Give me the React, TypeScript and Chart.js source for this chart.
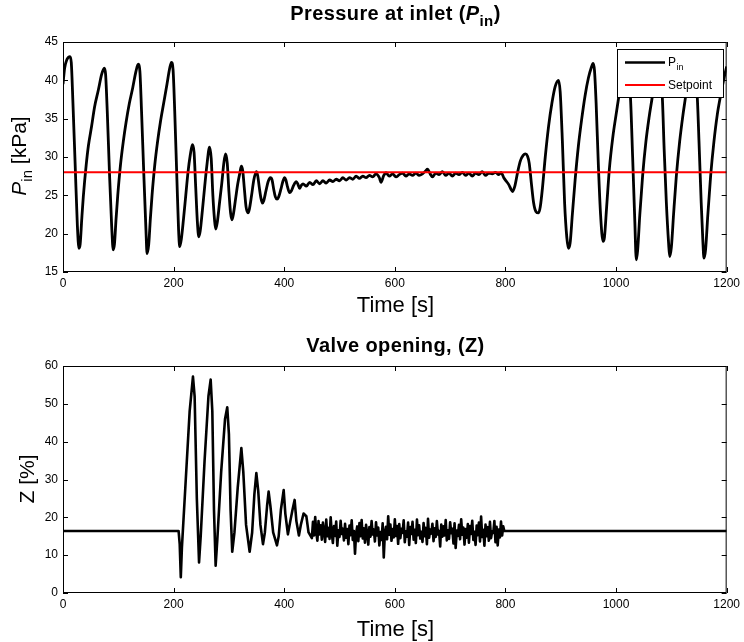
import React, { useEffect, useRef } from "react";
import { Chart, registerables } from "chart.js";

Chart.register(...registerables);

// ---------- DATA ----------
const xTicks = [0, 200, 400, 600, 800, 1000, 1200];
const pTicks = [15, 20, 25, 30, 35, 40, 45];
const zTicks = [0, 10, 20, 30, 40, 50, 60];
const setpoint = 28;

const pinTime = [
  0, 3, 7, 12.6, 15, 18, 22, 26, 28.9, 31, 34, 36.7, 42, 46, 51.7, 57, 63.8, 70, 74.6,
  77, 80, 84, 88, 90.8, 93, 96, 99, 104, 109, 114, 120, 126, 132, 136,
  139, 142, 146, 150, 152, 155, 158, 161, 166, 171, 176, 182, 188, 193, 196,
  199, 202, 206, 209, 211, 214, 218, 222, 226, 230, 234,
  237, 240, 243, 245.5, 248, 252, 256, 260, 265,
  268, 271, 274, 276, 279, 283, 287, 291, 294,
  297, 300, 303, 305.6, 308, 312, 316, 320, 322.5,
  325, 328, 331, 334.5, 337, 341, 345, 349.6,
  352, 355, 358, 360.5, 363, 367, 371, 375,
  378, 381, 384, 387, 390, 394, 397.5, 400.7,
  403, 406, 409.7, 413, 417, 421.8, 424.5, 427.8, 431,
  434, 440, 446, 452, 458, 464, 470, 476, 482, 488, 494, 500, 506, 512, 518, 524, 530,
  536, 542, 548, 554, 560, 566, 572, 575, 580, 584, 590, 596, 602, 608, 614, 620, 626,
  632, 638, 644, 650, 656, 659, 664, 668, 674, 680, 686, 692, 698, 704, 710, 716, 722,
  728, 734, 740, 746, 752, 758, 764, 770, 776, 782, 788, 792,
  797, 802, 806, 810, 813, 817, 822, 827, 832, 836, 840, 843, 847, 851, 855, 860,
  863, 867, 872, 878, 884, 890, 896, 899, 903, 907, 911, 914,
  917, 921, 926, 932, 938, 944, 950, 955, 958.5, 961, 964, 968, 972, 976.5,
  979, 983, 988, 994, 1000, 1005, 1010, 1016, 1020, 1023, 1026, 1030, 1034, 1036.6,
  1039, 1043, 1048, 1054, 1060, 1065.6, 1070, 1075, 1079, 1083.6, 1087, 1091, 1095, 1097,
  1100, 1104, 1109, 1115, 1121, 1125.8, 1130, 1135, 1140, 1144, 1146.8, 1150, 1154, 1157, 1159,
  1162, 1166, 1171, 1177, 1183, 1189, 1195, 1200,
];
const pinValue = [
  39.5, 41.6, 42.7, 43.1, 42.3, 37, 29, 21, 18.1, 18.6, 22, 24.8, 29, 31.5, 34, 36.5, 38.7, 40.8, 41.6,
  40.8, 36, 28, 21, 17.9, 18.6, 22, 25, 29, 32, 34.5, 37, 39, 41.2, 42.1,
  41.2, 36, 28, 20.5, 17.4, 18.6, 22, 25, 29, 32, 34.5, 37, 39.5, 41.6, 42.35,
  41.4, 36, 27, 20.5, 18.3, 19.3, 22, 25, 28, 30.2, 31.6,
  30.6, 26, 21.5, 19.6, 20.3, 23, 26, 28.8, 31.3,
  29.8, 25, 21.8, 20.6, 21.5, 24, 26.5, 29.3, 30.4,
  29.2, 25.5, 22.7, 21.8, 22.5, 24.5, 26.5, 28, 28.8,
  28.2, 25.8, 23.5, 22.7, 23.2, 25, 27, 28.1,
  27.6, 26, 24.6, 24.0, 24.3, 25.6, 26.8, 27.3,
  27, 25.8, 24.8, 24.5, 24.8, 25.8, 26.8, 27.3,
  27, 26.1, 25.35, 25.6, 26.3, 26.8, 26.5, 25.9, 26.3,
  26.5, 26.2, 26.7, 26.4, 26.9, 26.5, 26.9, 26.6, 27.0, 26.8, 27.1, 26.9, 27.3, 27.0, 27.3, 27.1, 27.5,
  27.2, 27.5, 27.3, 27.6, 27.4, 27.8, 27.3, 26.7, 27.6, 27.95, 27.5, 27.8, 27.4, 27.7, 27.9, 27.5, 27.8,
  27.6, 27.9, 27.6, 27.8, 28.2, 28.4, 27.8, 27.4, 27.9, 27.7, 28.1, 27.6, 27.9, 27.5, 27.9, 27.7, 28.0,
  27.6, 27.9, 27.5, 27.9, 27.7, 28.1, 27.6, 27.9, 27.8, 28.0, 27.7, 28.0,
  27.3, 26.8, 26.4, 25.8, 25.5, 26.2, 28, 29.5, 30.2, 30.4, 30.1, 29.2, 26.5, 24, 22.9, 22.7,
  23.5, 26, 30, 34, 37, 39.2, 40.0, 38.5, 32, 24, 19.5, 18.1,
  18.8, 22.5, 27, 31.5, 35, 38, 40.3, 41.6, 42.2, 41.3, 37, 29, 22.5, 19.0,
  19.5, 23.5, 28.5, 32.5, 35.5, 37.9, 40.5, 42.2, 41.6, 40, 37.9, 30, 21.5, 16.6,
  17.8, 22.5, 27.5, 32, 35.3, 37.9, 40.3, 41.9, 40.8, 37.9, 31, 24, 18.8, 17.0,
  18.2, 22.5, 27.5, 32, 35.5, 37.9, 40.2, 41.8, 40.8, 39.5, 37.9, 32, 24, 19, 16.8,
  18, 22.5, 27.5, 32, 35.5, 38, 40.2, 41.8,
];

const zTime = [
  0, 209, 211, 213, 215, 222, 229, 235, 238, 242, 246, 249, 256, 263, 267, 270, 273, 276,
  279, 286, 293, 297, 300, 303, 306, 310, 316, 322.5, 326, 331, 337.5, 342, 346, 349.6,
  353, 357, 361.6, 365, 369, 371.8, 375, 380, 386.9, 390, 394, 399, 402, 406.7, 411, 415,
  418.8, 422, 426.6, 430, 435, 440, 444,
  450, 452, 454, 456, 458, 460, 462, 464, 466, 468,
  470, 472, 474, 476, 478, 480, 482, 484, 486, 488,
  490, 492, 494, 496, 498, 500, 502, 504, 506, 508,
  510, 512, 514, 516, 518, 520, 522, 524, 526, 528,
  530, 532, 534, 536, 538, 540, 542, 544, 546, 548,
  550, 552, 554, 556, 558, 560, 562, 564, 566, 568,
  570, 572, 574, 576, 578, 580, 582, 584, 586, 588,
  590, 592, 594, 596, 598, 600, 602, 604, 606, 608,
  610, 612, 614, 616, 618, 620, 622, 624, 626, 628,
  630, 632, 634, 636, 638, 640, 642, 644, 646, 648,
  650, 652, 654, 656, 658, 660, 662, 664, 666, 668,
  670, 672, 674, 676, 678, 680, 682, 684, 686, 688,
  690, 692, 694, 696, 698, 700, 702, 704, 706, 708,
  710, 712, 714, 716, 718, 720, 722, 724, 726, 728,
  730, 732, 734, 736, 738, 740, 742, 744, 746, 748,
  750, 752, 754, 756, 758, 760, 762, 764, 766, 768,
  770, 772, 774, 776, 778, 780, 782, 784, 786, 788,
  790, 792, 794, 796, 798, 1200,
];
const zValue = [
  16.4, 16.4, 13, 4.2, 12, 30, 48, 57.2, 52, 25, 8.1, 15, 35, 52, 56.4, 48, 22, 7.2,
  14, 32, 46, 49.1, 42, 22, 10.9, 16, 28, 38.3, 32, 18, 10.9, 16, 26, 31.7,
  27, 18, 12.9, 16, 23, 26.8, 23, 16, 12.6, 15, 22, 27.2, 21, 15.5, 19, 22,
  24.6, 19, 15.2, 18, 21, 20.3, 16,
  14.5, 18.8, 15.2, 20.1, 16.0, 13.8, 19.0, 15.5, 17.9, 14.1,
  18.6, 16.2, 13.5, 19.4, 15.0, 17.2, 14.3, 20.0, 15.8, 13.2,
  17.7, 15.1, 18.9, 12.5, 16.6, 14.8, 19.1, 15.6, 17.0, 13.9,
  18.3, 14.6, 16.9, 12.9, 17.8, 15.3, 19.2, 14.0, 16.4, 10.4,
  15.8, 17.6, 13.7, 18.5, 15.0, 19.3, 14.4, 17.1, 13.3, 18.0,
  15.7, 12.8, 17.4, 14.9, 19.0, 15.5, 16.8, 13.6, 18.7, 15.2,
  17.3, 12.6, 16.1, 14.0, 18.4, 9.4, 15.9, 17.5, 14.2, 20.3,
  15.4, 18.1, 13.8, 16.9, 14.7, 19.5, 15.1, 17.7, 13.0, 18.2,
  14.5, 17.0, 15.9, 19.2, 13.4, 16.3, 14.9, 18.6, 12.7, 17.4,
  15.6, 18.8, 14.1, 16.7, 13.2, 19.4, 15.3, 17.9, 14.4, 16.2,
  13.5, 18.5, 15.0, 17.2, 12.9, 19.6, 14.6, 16.8, 15.7, 18.3,
  13.7, 17.1, 14.8, 19.0, 15.5, 16.4, 12.3, 18.1, 14.9, 17.6,
  15.2, 19.3, 13.9, 16.6, 14.3, 18.7, 15.8, 17.0, 13.1, 18.4,
  11.9, 16.5, 15.1, 18.0, 14.2, 19.5, 15.4, 17.3, 12.8, 16.9,
  14.6, 18.2, 13.3, 17.7, 15.6, 19.1, 14.0, 16.2, 12.7, 17.8,
  15.3, 18.6, 13.6, 20.2, 14.8, 16.7, 12.5, 18.1, 15.0, 17.4,
  13.8, 18.8, 14.5, 16.3, 15.9, 19.0, 13.4, 17.5, 12.6, 16.8,
  14.7, 18.9, 15.2, 17.6, 16.4, 16.4,
];

// ---------- PLUGINS ----------
const FONT = "'Liberation Sans', Arial, sans-serif";

const framePlugin = {
  id: "frame",
  afterDatasetsDraw(chart: any) {
    const { ctx, chartArea, scales } = chart;
    const { left, right, top, bottom } = chartArea;
    ctx.save();
    ctx.strokeStyle = "#000";
    ctx.lineWidth = 1;
    ctx.strokeRect(left + 0.5, top + 0.5, right - left - 1, bottom - top - 1);
    const tl = 5;
    ctx.beginPath();
    scales.x.ticks.forEach((t: any) => {
      const px = Math.round(scales.x.getPixelForValue(t.value)) + 0.5;
      ctx.moveTo(px, bottom);
      ctx.lineTo(px, bottom - tl);
      ctx.moveTo(px, top);
      ctx.lineTo(px, top + tl);
    });
    scales.y.ticks.forEach((t: any) => {
      const py = Math.round(scales.y.getPixelForValue(t.value)) + 0.5;
      ctx.moveTo(left, py);
      ctx.lineTo(left + tl, py);
      ctx.moveTo(right, py);
      ctx.lineTo(right - tl, py);
    });
    ctx.stroke();
    ctx.restore();
  },
};

const legendPlugin = {
  id: "customLegend",
  afterDraw(chart: any) {
    const { ctx } = chart;
    const x0 = 617, y0 = 49, w = 106, h = 48;
    ctx.save();
    ctx.fillStyle = "#fff";
    ctx.fillRect(x0, y0, w, h);
    ctx.strokeStyle = "#000";
    ctx.lineWidth = 1;
    ctx.strokeRect(x0 + 0.5, y0 + 0.5, w, h);
    ctx.lineWidth = 2.5;
    ctx.strokeStyle = "#000";
    ctx.beginPath();
    ctx.moveTo(625, 62.5);
    ctx.lineTo(665, 62.5);
    ctx.stroke();
    ctx.strokeStyle = "#ff0000";
    ctx.lineWidth = 2;
    ctx.beginPath();
    ctx.moveTo(625, 85);
    ctx.lineTo(665, 85);
    ctx.stroke();
    ctx.fillStyle = "#000";
    ctx.textBaseline = "alphabetic";
    ctx.font = "12px " + FONT;
    ctx.fillText("P", 668, 66);
    const pw = ctx.measureText("P").width;
    ctx.font = "9px " + FONT;
    ctx.fillText("in", 668 + pw + 0.5, 70);
    ctx.font = "12px " + FONT;
    ctx.fillText("Setpoint", 668, 89);
    ctx.restore();
  },
};

function makeOptions(yMin: number, yMax: number, yStep: number) {
  return {
    responsive: false,
    animation: false as const,
    events: [],
    layout: { padding: { top: 0, right: 16, left: 0, bottom: 0 } },
    plugins: { legend: { display: false }, tooltip: { enabled: false }, title: { display: false } },
    scales: {
      x: {
        type: "linear" as const,
        min: 0,
        max: 1200,
        afterBuildTicks(s: any) {
          s.ticks = xTicks.map((v) => ({ value: v }));
        },
        ticks: {
          color: "#000",
          font: { family: FONT, size: 12 },
          padding: 4,
          maxRotation: 0,
          callback: (v: any) => String(v),
        },
        grid: { display: false, drawTicks: false },
        border: { display: false },
        afterFit(s: any) {
          s.height = 49;
        },
      },
      y: {
        type: "linear" as const,
        min: yMin,
        max: yMax,
        ticks: {
          stepSize: yStep,
          color: "#000",
          font: { family: FONT, size: 12 },
          padding: 5,
          callback: (v: any) => String(v),
        },
        grid: { display: false, drawTicks: false },
        border: { display: false },
        afterFit(s: any) {
          s.width = 63;
        },
      },
    },
  };
}

export default function App() {
  const topRef = useRef<HTMLCanvasElement>(null);
  const botRef = useRef<HTMLCanvasElement>(null);

  useEffect(() => {
    const pinPts = pinTime.map((t, i) => ({ x: t, y: pinValue[i] }));
    const spPts = [
      { x: 0, y: setpoint },
      { x: 1200, y: setpoint },
    ];
    const zPts = zTime.map((t, i) => ({ x: t, y: zValue[i] }));

    const topOpts: any = makeOptions(pTicks[0], pTicks[pTicks.length - 1], 5);
    topOpts.layout.padding.top = 42;
    const top = new Chart(topRef.current!, {
      type: "line",
      data: {
        datasets: [
          { label: "Setpoint", data: spPts, borderColor: "#ff0000", borderWidth: 2, pointRadius: 0, fill: false },
          {
            label: "Pin",
            data: pinPts,
            borderColor: "#000",
            borderWidth: 2.8,
            pointRadius: 0,
            fill: false,
            tension: 0.4,
            cubicInterpolationMode: "monotone",
            borderJoinStyle: "round",
          },
        ],
      },
      options: topOpts,
      plugins: [framePlugin, legendPlugin],
    });

    const botOpts: any = makeOptions(zTicks[0], zTicks[zTicks.length - 1], 10);
    botOpts.layout.padding.top = 45;
    const bot = new Chart(botRef.current!, {
      type: "line",
      data: {
        datasets: [
          {
            label: "Z",
            data: zPts,
            borderColor: "#000",
            borderWidth: 2.6,
            pointRadius: 0,
            fill: false,
            tension: 0,
            borderJoinStyle: "round",
          },
        ],
      },
      options: botOpts,
      plugins: [framePlugin],
    });

    return () => {
      top.destroy();
      bot.destroy();
    };
  }, []);

  const titleStyle: React.CSSProperties = {
    position: "absolute",
    left: 63,
    width: 665,
    textAlign: "center",
    fontFamily: FONT,
    fontWeight: "bold",
    fontSize: 20,
    letterSpacing: "0.4px",
    whiteSpace: "nowrap",
    lineHeight: "20px",
  };
  const xLabelStyle: React.CSSProperties = {
    position: "absolute",
    left: 63,
    width: 665,
    textAlign: "center",
    fontFamily: FONT,
    fontSize: 22,
    lineHeight: "22px",
    whiteSpace: "nowrap",
  };
  const yLabelBase: React.CSSProperties = {
    position: "absolute",
    transform: "translate(-50%, -50%) rotate(-90deg)",
    fontFamily: FONT,
    fontSize: 21,
    lineHeight: "24px",
    whiteSpace: "nowrap",
  };

  return (
    <div style={{ position: "absolute", left: 0, top: 0, width: 744, height: 642, background: "#fff", overflow: "hidden" }}>
      <canvas ref={topRef} width={744} height={321} style={{ position: "absolute", left: 0, top: 0, width: 744, height: 321 }} />
      <canvas ref={botRef} width={744} height={321} style={{ position: "absolute", left: 0, top: 321, width: 744, height: 321 }} />
      <div style={{ ...titleStyle, top: 3 }}>
        Pressure at inlet (<i>P</i>
        <sub style={{ fontSize: 15, verticalAlign: "-6px" }}>in</sub>)
      </div>
      <div style={{ ...titleStyle, top: 335 }}>Valve opening, (Z)</div>
      <div style={{ ...xLabelStyle, top: 294 }}>Time [s]</div>
      <div style={{ ...xLabelStyle, top: 618 }}>Time [s]</div>
      <div style={{ ...yLabelBase, left: 23, top: 156 }}>
        <i>P</i>
        <sub style={{ fontSize: 15, verticalAlign: "-6px" }}>in</sub> [kPa]
      </div>
      <div style={{ ...yLabelBase, left: 27, top: 479 }}>Z [%]</div>
    </div>
  );
}
